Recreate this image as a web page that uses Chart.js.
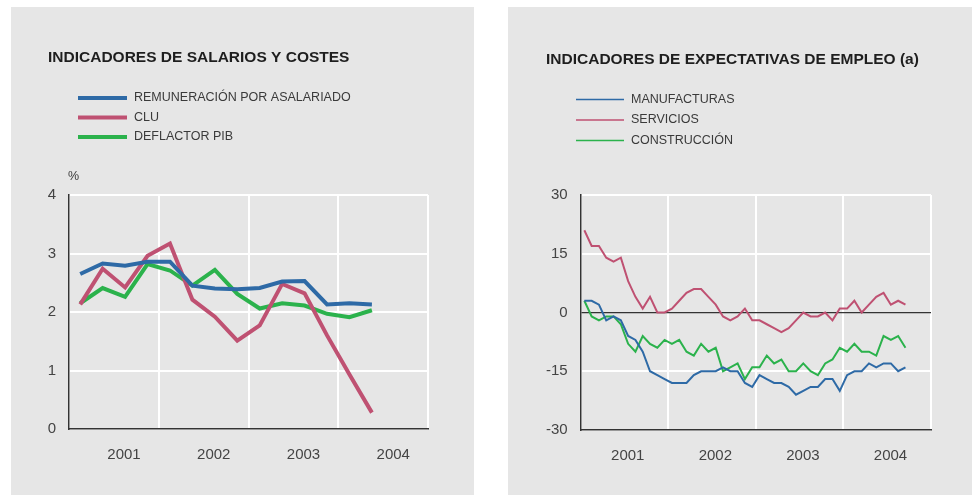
<!DOCTYPE html>
<html>
  <head>
    <title>Indicadores</title>
    <meta charset="UTF-8">
    <script src="https://cdn.jsdelivr.net/npm/chart.js@4.4.1/dist/chart.umd.min.js"></script>
    <style>
      body { margin: 0; background: #fff; }
      .panel { position: absolute; top: 7px; height: 488px; background: #e6e6e6; }
      #p1 { left: 11px; width: 463px; }
      #p2 { left: 508px; width: 464px; }
    </style>
  </head>
  <body>
    <div class="panel" id="p1"><canvas id="salarios" width="463" height="488"></canvas></div>
    <div class="panel" id="p2"><canvas id="empleo" width="464" height="488"></canvas></div>
    <script>
        // años (etiquetas del eje x)
        const years = ['2001', '2002', '2003', '2004']

        // trimestral, 2001 T1 - 2004 T2
        const remuneracion = [2.65, 2.83, 2.79, 2.86, 2.86, 2.45, 2.40, 2.39, 2.41, 2.52, 2.53, 2.13, 2.15, 2.13]
        const clu = [2.13, 2.74, 2.42, 2.96, 3.17, 2.21, 1.92, 1.51, 1.77, 2.48, 2.32, 1.60, 0.93, 0.28]
        const deflactor = [2.15, 2.41, 2.26, 2.82, 2.71, 2.45, 2.72, 2.31, 2.06, 2.15, 2.11, 1.97, 1.91, 2.03]

        // mensual, ene 2001 - sep 2004
        const manufacturas = [3, 3, 2, -2, -1, -2, -6, -7, -10, -15, -16, -17,
            -18, -18, -18, -16, -15, -15, -15, -14, -15, -15, -18, -19,
            -16, -17, -18, -18, -19, -21, -20, -19, -19, -17, -17, -20,
            -16, -15, -15, -13, -14, -13, -13, -15, -14]
        const servicios = [21, 17, 17, 14, 13, 14, 8, 4, 1, 4, 0, 0,
            1, 3, 5, 6, 6, 4, 2, -1, -2, -1, 1, -2,
            -2, -3, -4, -5, -4, -2, 0, -1, -1, 0, -2, 1,
            1, 3, 0, 2, 4, 5, 2, 3, 2]
        const construccion = [3, -1, -2, -1, -1, -3, -8, -10, -6, -8, -9, -7,
            -8, -7, -10, -11, -8, -10, -9, -15, -14, -13, -17, -14,
            -14, -11, -13, -12, -15, -15, -13, -15, -16, -13, -12, -9,
            -10, -8, -10, -10, -11, -6, -7, -6, -9]

        const BLUE = '#2e6aa6', PINK = '#bf5172', GREEN = '#2bb24c'
        const FONT = "'Liberation Sans', Arial, sans-serif"
        const toPoints = arr => arr.map((v, i) => ({ x: i + 0.5, y: v }))

        // titulo, leyenda vertical y unidad
        const panelText = {
            id: 'panelText',
            afterDraw(chart, args, o) {
                const ctx = chart.ctx
                ctx.save()
                ctx.textBaseline = 'middle'
                ctx.fillStyle = '#1e1e1e'
                ctx.font = 'bold 15.5px ' + FONT
                ctx.fillText(o.title, o.titleX, o.titleY)
                ctx.font = '12.5px ' + FONT
                chart.data.datasets.forEach((ds, i) => {
                    const y = o.legendY + i * o.legendGap
                    ctx.strokeStyle = ds.borderColor
                    ctx.lineWidth = o.legendLine
                    ctx.beginPath()
                    ctx.moveTo(o.legendX, y)
                    ctx.lineTo(o.legendX + o.legendLen, y)
                    ctx.stroke()
                    ctx.fillStyle = '#3a3a3a'
                    ctx.fillText(ds.label, o.legendX + o.legendLen + 7, y)
                })
                if (o.unit) {
                    ctx.fillStyle = '#3a3a3a'
                    ctx.fillText(o.unit, o.unitX, o.unitY)
                }
                ctx.restore()
            }
        }

        // x: linea de rejilla en cada cambio de año, etiqueta dentro del año
        function makeScales(xMax, yMin, yMax, yStep, yWidth, xHeight, zeroDark) {
            const per = xMax / 4
            return {
                x: {
                    type: 'linear', min: 0, max: xMax,
                    afterBuildTicks: s => {
                        s.ticks = []
                        for (let k = 0; k <= 4; k++) {
                            s.ticks.push({ value: k * per })
                            if (k < 4) s.ticks.push({ value: k * per + per / 2 + 0.45 })
                        }
                    },
                    afterFit: s => { s.height = xHeight },
                    grid: {
                        drawTicks: false,
                        color: c => (c.index % 2 === 0) ? '#ffffff' : 'rgba(0,0,0,0)',
                        lineWidth: 2
                    },
                    border: { color: '#333', width: 1.5 },
                    ticks: {
                        padding: 17, color: '#444', font: { family: FONT, size: 15 },
                        autoSkip: false, maxRotation: 0,
                        callback: (v, i) => (i % 2 === 1) ? years[(i - 1) / 2] : ''
                    }
                },
                y: {
                    min: yMin, max: yMax,
                    afterFit: s => { s.width = yWidth },
                    ticks: { stepSize: yStep, padding: 13, color: '#444', font: { family: FONT, size: 15 } },
                    grid: {
                        drawTicks: false,
                        color: c => (zeroDark && c.tick && c.tick.value === 0) ? '#333' : '#ffffff',
                        lineWidth: c => (zeroDark && c.tick && c.tick.value === 0) ? 1.2 : 2
                    },
                    border: { color: '#333', width: 1.5 }
                }
            }
        }

        new Chart(document.getElementById('salarios').getContext('2d'), {
            type: 'line',
            data: {
                datasets: [
                    { label: 'REMUNERACIÓN POR ASALARIADO', data: toPoints(remuneracion), borderColor: BLUE },
                    { label: 'CLU', data: toPoints(clu), borderColor: PINK },
                    { label: 'DEFLACTOR PIB', data: toPoints(deflactor), borderColor: GREEN }
                ]
            },
            options: {
                responsive: false,
                animation: false,
                elements: { line: { borderWidth: 4, tension: 0 }, point: { radius: 0 } },
                layout: { padding: { top: 188, left: 0, right: 46, bottom: 0 } },
                plugins: {
                    legend: { display: false },
                    tooltip: { enabled: false },
                    panelText: {
                        title: 'INDICADORES DE SALARIOS Y COSTES', titleX: 37, titleY: 51,
                        legendX: 67, legendY: 91, legendGap: 19.5, legendLen: 49, legendLine: 4,
                        unit: '%', unitX: 57, unitY: 170
                    }
                },
                scales: makeScales(16, 0, 4, 1, 58, 66, false)
            },
            plugins: [panelText]
        })

        new Chart(document.getElementById('empleo').getContext('2d'), {
            type: 'line',
            data: {
                datasets: [
                    { label: 'MANUFACTURAS', data: toPoints(manufacturas), borderColor: BLUE },
                    { label: 'SERVICIOS', data: toPoints(servicios), borderColor: PINK },
                    { label: 'CONSTRUCCIÓN', data: toPoints(construccion), borderColor: GREEN }
                ]
            },
            options: {
                responsive: false,
                animation: false,
                elements: { line: { borderWidth: 2, tension: 0 }, point: { radius: 0 } },
                layout: { padding: { top: 188, left: 0, right: 41, bottom: 0 } },
                plugins: {
                    legend: { display: false },
                    tooltip: { enabled: false },
                    panelText: {
                        title: 'INDICADORES DE EXPECTATIVAS DE EMPLEO (a)', titleX: 38, titleY: 53,
                        legendX: 68, legendY: 92.5, legendGap: 20.5, legendLen: 48, legendLine: 1.5
                    }
                },
                scales: makeScales(48, -30, 30, 15, 72.7, 65, true)
            },
            plugins: [panelText]
        })
    </script>
  </body>
</html>
